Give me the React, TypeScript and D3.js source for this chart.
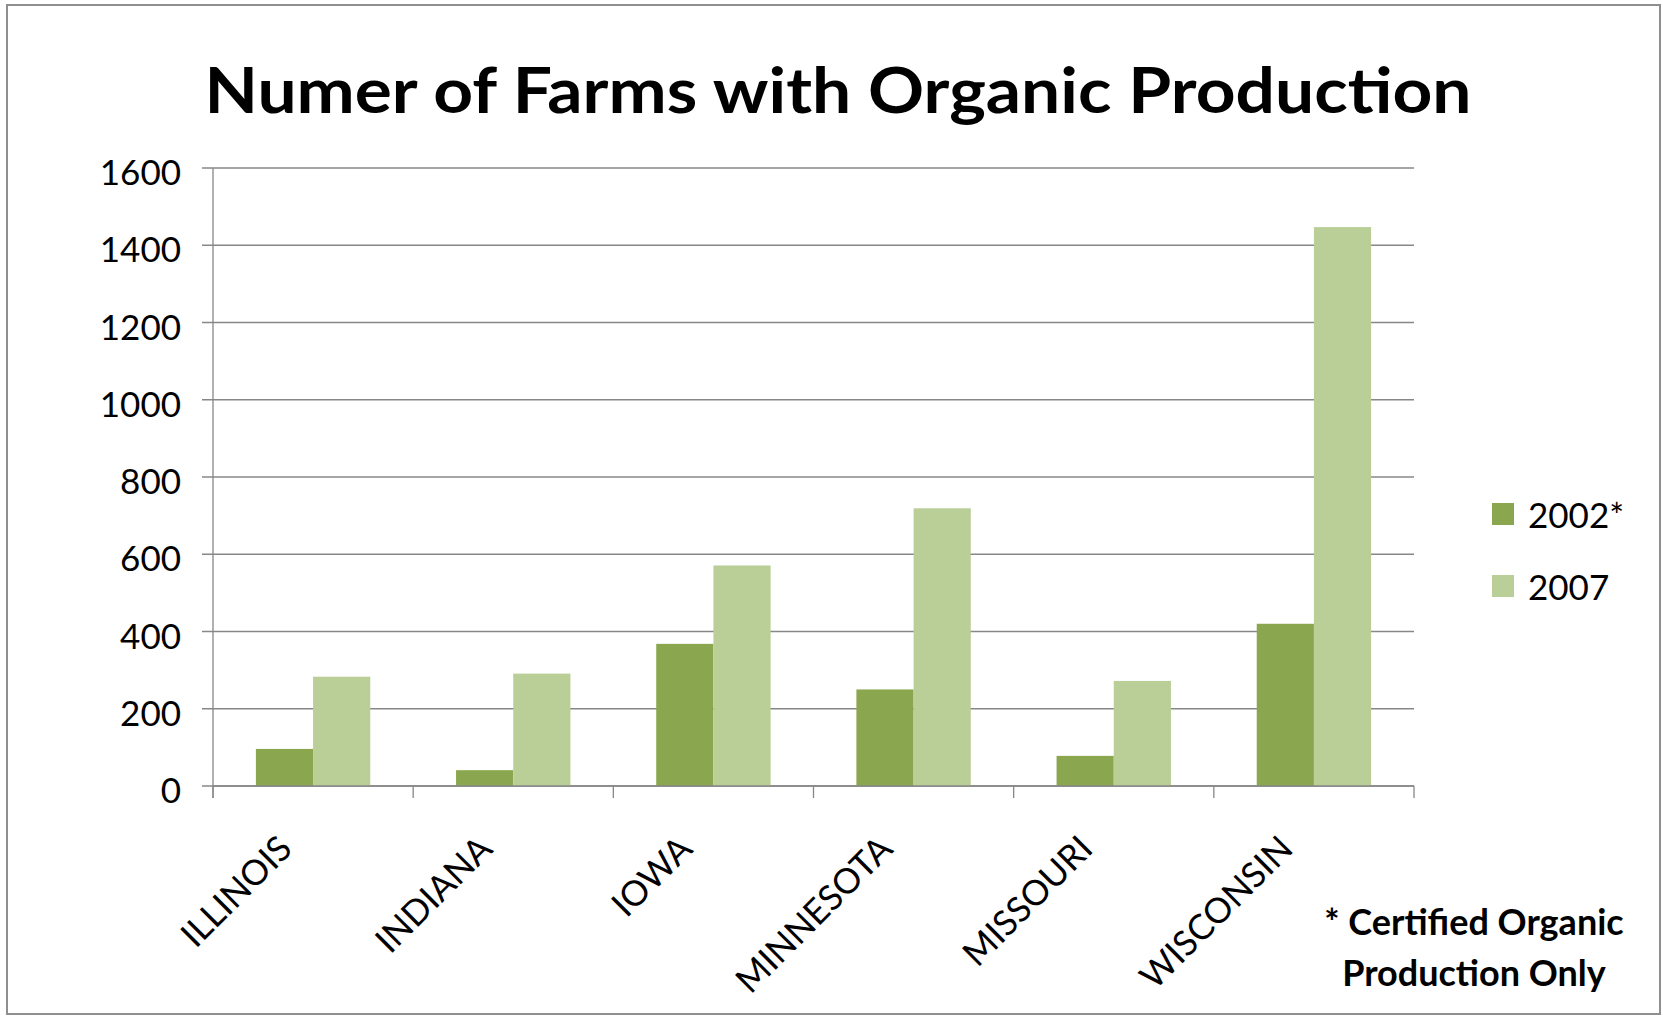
import React from "react";
import * as d3 from "d3";

const categories = ["ILLINOIS", "INDIANA", "IOWA", "MINNESOTA", "MISSOURI", "WISCONSIN"];
const seriesNames = ["2002*", "2007"];
const values2002 = [96, 41, 368, 250, 78, 420];
const values2007 = [283, 291, 571, 719, 272, 1447];
const yTicks = [0, 200, 400, 600, 800, 1000, 1200, 1400, 1600];
const titleText = "Numer of Farms with Organic Production";
const footnoteLines = ["* Certified Organic", "Production Only"];

const W = 1663;
const H = 1018;
const colors = ["#8AA74F", "#B9CF97"];
const gridColor = "#878787";
const FONT = "Lato, 'Open Sans', sans-serif";

export default function App() {
  const left = 213;
  const right = 1414;
  const top = 168;
  const bottom = 786;

  const x = d3.scaleBand<string>().domain(categories).range([left, right]).paddingInner(0).paddingOuter(0);
  const bw = x.bandwidth();
  const gap = bw * 1.5 / 3.5;
  const xs = d3.scaleBand<string>().domain(seriesNames).range([gap / 2, bw - gap / 2]).padding(0);
  const y = d3.scaleLinear().domain([0, 1600]).range([bottom, top]);

  const series = [values2002, values2007];
  const catTicks = [...categories.map((c) => x(c)!), right];

  return (
    <div style={{ position: "absolute", left: 0, top: 0 }}>
      <svg width={W} height={H} style={{ display: "block", background: "#fff" }}>
        <rect x={7} y={5} width={1653} height={1009} fill="#fff" stroke="#8f8f8f" strokeWidth={2} />
        <text
          x={838}
          y={113}
          textAnchor="middle"
          fontFamily={FONT}
          fontWeight={700}
          fontSize={63}
          textLength={1267}
          lengthAdjust="spacingAndGlyphs"
          fill="#000"
        >
          {titleText}
        </text>

        {yTicks.map((t) => (
          <g key={t}>
            <line x1={202} x2={right} y1={y(t)} y2={y(t)} stroke={gridColor} strokeWidth={1.3} />
            <text x={181} y={y(t) + 17} textAnchor="end" fontFamily={FONT} fontSize={35} fill="#000">
              {t}
            </text>
          </g>
        ))}

        {categories.map((c, i) => (
          <g key={c}>
            {series.map((vals, s) => (
              <rect
                key={s}
                x={x(c)! + xs(seriesNames[s])!}
                y={y(vals[i])}
                width={xs.bandwidth()}
                height={bottom - y(vals[i])}
                fill={colors[s]}
              />
            ))}
          </g>
        ))}

        <line x1={left} x2={left} y1={top} y2={798} stroke={gridColor} strokeWidth={1.3} />
        <line x1={left} x2={right} y1={bottom} y2={bottom} stroke={gridColor} strokeWidth={1.3} />
        {catTicks.map((t, i) => (
          <line key={i} x1={t} x2={t} y1={bottom} y2={798} stroke={gridColor} strokeWidth={1.3} />
        ))}

        {categories.map((c) => {
          const cx = x(c)! + bw / 2;
          return (
            <text
              key={c}
              transform={`translate(${cx - 28},${842}) rotate(-45)`}
              textAnchor="end"
              dy="0.36em"
              fontFamily={FONT}
              fontSize={35}
              fill="#000"
            >
              {c}
            </text>
          );
        })}

        {seriesNames.map((n, i) => (
          <g key={n}>
            <rect x={1492} y={503 + i * 72} width={22} height={22} fill={colors[i]} />
            <text x={1528} y={528 + i * 72} fontFamily={FONT} fontSize={35} fill="#000">
              {n}
            </text>
          </g>
        ))}

        {footnoteLines.map((l, i) => (
          <text
            key={i}
            x={1474}
            y={935 + i * 51}
            textAnchor="middle"
            fontFamily={FONT}
            fontWeight={700}
            fontSize={36}
            fill="#000"
          >
            {l}
          </text>
        ))}
      </svg>
    </div>
  );
}
